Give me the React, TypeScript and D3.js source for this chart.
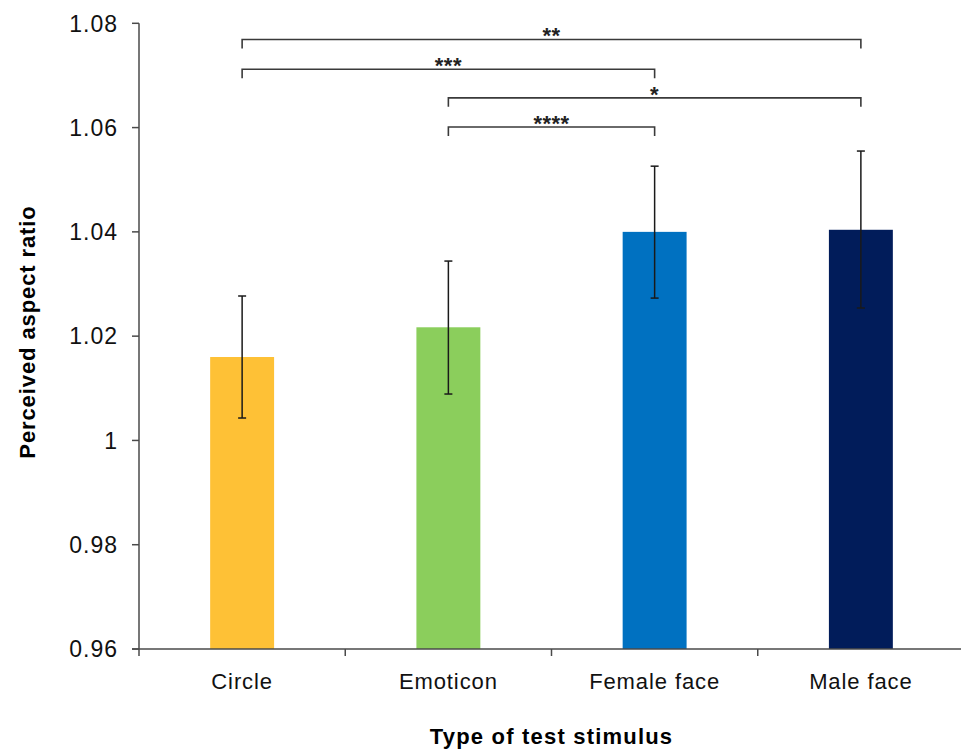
import React, { useEffect, useRef } from 'react';
import * as d3 from 'd3';

const categories = ['Circle', 'Emoticon', 'Female face', 'Male face'];
const means = [1.016, 1.0217, 1.04, 1.0404];
const errUpper = [1.0277, 1.0344, 1.0526, 1.0555];
const errLower = [1.0043, 1.0089, 1.0273, 1.0254];
const barColors = ['#FEC136', '#8BCE5C', '#0071C1', '#011C5A'];
const yTicks = [0.96, 0.98, 1, 1.02, 1.04, 1.06, 1.08];
const yTickLabels = ['0.96', '0.98', '1', '1.02', '1.04', '1.06', '1.08'];

// significance brackets
const bracketFrom = ['Circle', 'Circle', 'Emoticon', 'Emoticon'];
const bracketTo = ['Male face', 'Female face', 'Male face', 'Female face'];
const bracketLevel = [1.0769, 1.0712, 1.0657, 1.0601];
const bracketLabels = ['**', '***', '*', '****'];

const App: React.FC = () => {
  const width = 961;
  const height = 749;
  const svgRef = useRef<SVGSVGElement>(null);

  useEffect(() => {
    if (!svgRef.current) return;
    const svg = d3.select(svgRef.current);
    svg.selectAll('*').remove();

    const left = 139;
    const right = 964;
    const top = 23.3;
    const bottom = 649;
    const font = '"Liberation Sans", Arial, Helvetica, sans-serif';
    const axisColor = '#4a4a4a';

    const x = d3.scaleBand<string>()
      .domain(categories)
      .range([left, right])
      .paddingInner(0.69)
      .paddingOuter(0.345);

    const y = d3.scaleLinear()
      .domain([0.96, 1.08])
      .range([bottom, top]);

    const cx = (c: string) => (x(c) as number) + x.bandwidth() / 2;

    // bars
    categories.forEach((c, i) => {
      svg.append('rect')
        .attr('x', x(c) as number)
        .attr('y', y(means[i]))
        .attr('width', x.bandwidth())
        .attr('height', bottom - y(means[i]))
        .attr('fill', barColors[i]);
    });

    // error bars
    categories.forEach((c, i) => {
      const g = svg.append('g').attr('stroke', '#1a1a1a').attr('stroke-width', 1.5);
      g.append('line')
        .attr('x1', cx(c)).attr('x2', cx(c))
        .attr('y1', y(errUpper[i])).attr('y2', y(errLower[i]));
      [errUpper[i], errLower[i]].forEach(v => {
        g.append('line')
          .attr('x1', cx(c) - 4).attr('x2', cx(c) + 4)
          .attr('y1', y(v)).attr('y2', y(v));
      });
    });

    // y axis
    svg.append('line')
      .attr('x1', left).attr('x2', left)
      .attr('y1', top).attr('y2', bottom + 7)
      .attr('stroke', axisColor).attr('stroke-width', 1.5);

    yTicks.forEach((t, i) => {
      svg.append('line')
        .attr('x1', left - 7).attr('x2', left)
        .attr('y1', y(t)).attr('y2', y(t))
        .attr('stroke', axisColor).attr('stroke-width', 1.5);
      svg.append('text')
        .attr('x', 118)
        .attr('y', y(t))
        .attr('dy', '0.36em')
        .attr('text-anchor', 'end')
        .attr('font-family', font)
        .attr('font-size', 23)
        .attr('letter-spacing', 1)
        .attr('fill', '#111')
        .text(yTickLabels[i]);
    });

    // x axis
    svg.append('line')
      .attr('x1', left - 7).attr('x2', right)
      .attr('y1', bottom).attr('y2', bottom)
      .attr('stroke', axisColor).attr('stroke-width', 1.5);

    const step = x.step();
    for (let i = 1; i < categories.length; i++) {
      const tx = left + step * i;
      svg.append('line')
        .attr('x1', tx).attr('x2', tx)
        .attr('y1', bottom).attr('y2', bottom + 7)
        .attr('stroke', axisColor).attr('stroke-width', 1.5);
    }

    categories.forEach(c => {
      svg.append('text')
        .attr('x', cx(c))
        .attr('y', 689)
        .attr('text-anchor', 'middle')
        .attr('font-family', font)
        .attr('font-size', 22)
        .attr('letter-spacing', 0.9)
        .attr('fill', '#111')
        .text(c);
    });

    // brackets
    bracketLabels.forEach((lab, i) => {
      const x1 = cx(bracketFrom[i]);
      const x2 = cx(bracketTo[i]);
      const by = y(bracketLevel[i]);
      svg.append('path')
        .attr('d', `M${x1},${by + 9}V${by}H${x2}V${by + 9}`)
        .attr('fill', 'none')
        .attr('stroke', '#3a3a3a')
        .attr('stroke-width', 1.6);
      svg.append('text')
        .attr('x', (x1 + x2) / 2)
        .attr('y', by + 4)
        .attr('text-anchor', 'middle')
        .attr('font-family', font)
        .attr('font-size', 22)
        .attr('font-weight', 'bold')
        .attr('letter-spacing', 0.5)
        .attr('fill', '#222')
        .text(lab);
    });

    // axis titles
    svg.append('text')
      .attr('x', (left + right) / 2)
      .attr('y', 744)
      .attr('text-anchor', 'middle')
      .attr('font-family', font)
      .attr('font-size', 22)
      .attr('font-weight', 'bold')
      .attr('letter-spacing', 1.2)
      .attr('fill', '#000')
      .text('Type of test stimulus');

    svg.append('text')
      .attr('transform', 'translate(35,332) rotate(-90)')
      .attr('text-anchor', 'middle')
      .attr('font-family', font)
      .attr('font-size', 22)
      .attr('font-weight', 'bold')
      .attr('letter-spacing', 0.9)
      .attr('fill', '#000')
      .text('Perceived aspect ratio');
  }, [height, width]);

  return (
    <svg ref={svgRef} width={width} height={height}
      style={{ position: 'absolute', left: 0, top: 0, background: '#fff' }}>
    </svg>
  );
};

export default App;
